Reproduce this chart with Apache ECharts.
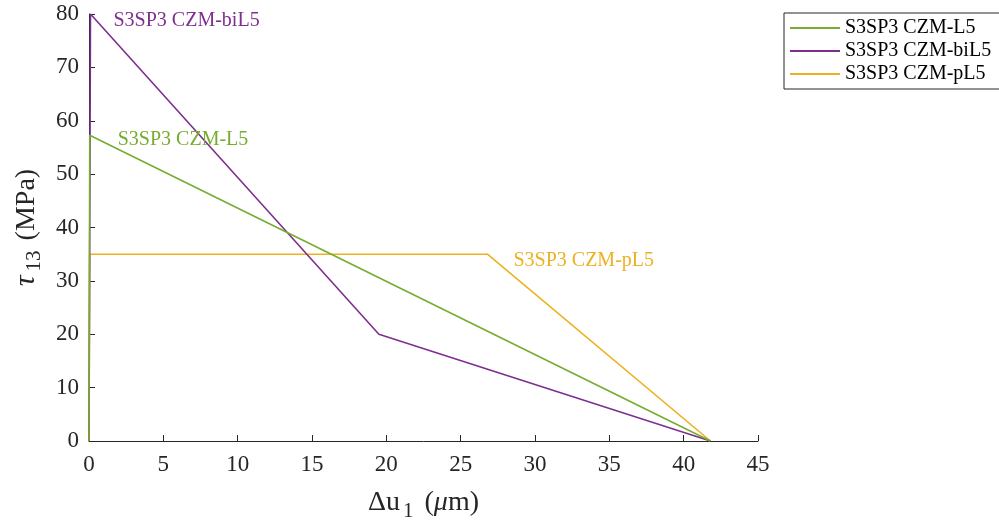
<!DOCTYPE html>
<html><head><meta charset="utf-8">
<script src="https://cdn.jsdelivr.net/npm/echarts@6/dist/echarts.min.js"></script>
<style>html,body{margin:0;padding:0;background:#fff}#c{width:999px;height:527px}</style>
</head><body><div id="c"></div>
<script>
const seriesNames = ['S3SP3 CZM-L5', 'S3SP3 CZM-biL5', 'S3SP3 CZM-pL5'];
const xL5 = [0, 0.05, 41.8];
const yL5 = [0, 57.3, 0];
const xBiL5 = [0, 0.1, 19.5, 41.8];
const yBiL5 = [0, 80, 20, 0];
const xPL5 = [0, 0.05, 26.8, 41.8];
const yPL5 = [0, 35, 35, 0];
const labelIndex = [1, 1, 2];
const xTicks = [0, 45, 5];
const yTicks = [0, 80, 10];

const colors = ['#77AC30', '#7E2F8E', '#EDB120'];
const FONT = 'Liberation Serif';
const labelStyle = [
  {distance: 28, offset: [0, 5]},
  {distance: 23, offset: [0, 7]},
  {distance: 26, offset: [0, 7]}
];
function build(xs, ys, si) {
  return xs.map((x, i) => {
    const d = {value: [x, ys[i]]};
    if (i === labelIndex[si]) {
      d.label = Object.assign({show: true, position: 'right', formatter: seriesNames[si],
        color: colors[si], fontFamily: FONT, fontSize: 20}, labelStyle[si]);
    }
    return d;
  });
}
const datasets = [build(xL5, yL5, 0), build(xBiL5, yBiL5, 1), build(xPL5, yPL5, 2)];

const chart = echarts.init(document.getElementById('c'), null, {renderer: 'canvas'});
const axisCommon = {
  axisLine: {show: true, lineStyle: {color: '#262626', width: 1}},
  axisTick: {show: true, inside: true, length: 6, lineStyle: {color: '#262626'}},
  splitLine: {show: false},
  axisLabel: {color: '#262626', fontFamily: FONT, fontSize: 23}
};
chart.setOption({
  animation: false,
  backgroundColor: '#fff',
  grid: {left: 89, right: 241, top: 14, bottom: 86, containLabel: false, outerBoundsMode: 'none'},
  legend: {
    orient: 'vertical', left: 784, top: 13,
    data: seriesNames,
    icon: 'rect', itemWidth: 50, itemHeight: 2, itemGap: 3,
    padding: [5, 40, 5, 6],
    borderColor: '#262626', borderWidth: 1,
    textStyle: {fontFamily: FONT, fontSize: 20, color: '#000', lineHeight: 20}
  },
  xAxis: Object.assign({}, axisCommon, {
    type: 'value', min: xTicks[0], max: xTicks[1], interval: xTicks[2],
    axisLabel: Object.assign({}, axisCommon.axisLabel, {margin: 12}),
    name: '{n|Δu}{s|1}{n| (}{i|μ}{n|m)}',
    nameLocation: 'middle', nameGap: 42,
    nameTextStyle: {
      rich: {
        n: {fontFamily: FONT, fontSize: 28, color: '#262626'},
        i: {fontFamily: FONT, fontSize: 28, fontStyle: 'italic', color: '#262626'},
        s: {fontFamily: FONT, fontSize: 21, color: '#262626', padding: [18, 4, 0, 3]}
      }
    }
  }),
  yAxis: Object.assign({}, axisCommon, {
    type: 'value', min: yTicks[0], max: yTicks[1], interval: yTicks[2],
    axisLabel: Object.assign({}, axisCommon.axisLabel, {margin: 10}),
    name: '{i|τ}{s|13}{n| (MPa)}',
    nameLocation: 'middle', nameGap: 44, nameRotate: 90,
    nameTextStyle: {
      rich: {
        n: {fontFamily: FONT, fontSize: 28, color: '#262626'},
        i: {fontFamily: FONT, fontSize: 30, fontStyle: 'italic', color: '#262626'},
        s: {fontFamily: FONT, fontSize: 21, color: '#262626', padding: [16, 3, 0, 4]}
      }
    }
  }),
  series: datasets.map((d, i) => ({
    name: seriesNames[i], type: 'line', data: d,
    showSymbol: true, symbol: 'circle', symbolSize: 0.01,
    lineStyle: {color: colors[i], width: 1.6},
    itemStyle: {color: colors[i]},
    z: 3 - i
  }))
});
</script></body></html>
